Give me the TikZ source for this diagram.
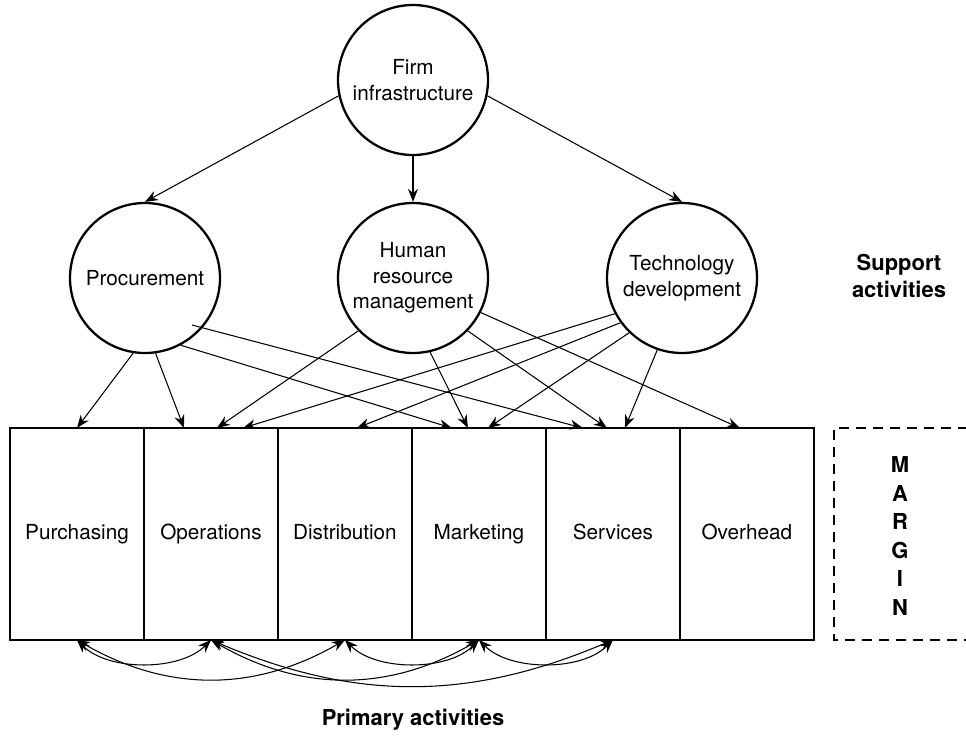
\documentclass[tikz,border=0pt]{standalone}
\usepackage{fontspec}
\setmainfont{TeX Gyre Heros}
\usetikzlibrary{arrows.meta,positioning,calc}

\begin{document}
\begin{tikzpicture}[x=0.02cm, y=-0.02cm, >={Stealth[length=2.6mm, width=2mm]},
    every node/.style={font=\fontsize{11.8}{14.5}\selectfont},
    activity/.style={draw, circle, line width=1.3pt, minimum size=3cm, inner sep=0pt, align=center},
    primary/.style={draw, line width=1.3pt, minimum width=2.68cm, minimum height=4.24cm, inner sep=0pt, outer sep=0pt,
        text height=1.6ex, text depth=0.5ex},
    link/.style={->, line width=0.6pt},
    flow/.style={<->, line width=0.6pt},
    heading/.style={font=\fontsize{12.5}{15.5}\selectfont\bfseries, align=center},
    marginline/.style={line width=1.1pt, dash pattern=on 0.2cm off 0.14cm}]

    \useasboundingbox (0,0) rectangle (966,737);

    % Support activities
    \node [activity] (firm) at (413,80) {Firm\\infrastructure};
    \node [activity] (proc) at (145,278) {Procurement};
    \node [activity] (hrm) at (413,278) {Human\\resource\\management};
    \node [activity] (tech) at (682,278) {Technology\\development};

    % Primary activities
    \node [primary, anchor=north west] (purch) at (10,428) {Purchasing};
    \node [primary, right=0pt of purch] (oper) {Operations};
    \node [primary, right=0pt of oper] (dist) {Distribution};
    \node [primary, right=0pt of dist] (mark) {Marketing};
    \node [primary, right=0pt of mark] (serv) {Services};
    \node [primary, right=0pt of serv] (over) {Overhead};

    % Margin
    \draw [marginline] (968,428) -| (834,640) -- (968,640);
    \node [heading, font=\fontsize{12.5}{16.2}\selectfont\bfseries] (margin) at (900,536) {M\\A\\R\\G\\I\\N};

    % Labels
    \node [heading] (support) at (899,276) {Support\\activities};
    \node [heading] (primaryact) at (413,720) {Primary activities};

    % Firm infrastructure feeds the other support activities
    \draw [link] (firm.192) -- (proc.north);
    \draw [link] (firm.south) -- (hrm.north);
    \draw [link] (firm.348) -- (tech.north);

    % Support to primary
    \coordinate (procin) at (192,325);
    \draw [link] (proc.261) -- (purch.north);
    \draw [link] (proc.278) -- ($(oper.north west)+(40,0)$);
    \draw [link] (proc.298) -- ($(mark.north west)+(40,0)$);
    \draw [link] (procin) -- ($(serv.north west)+(37,0)$);

    \draw [link] (hrm.224) -- ($(oper.north west)+(73,0)$);
    \draw [link] (hrm.283) -- ($(mark.north west)+(56,0)$);
    \draw [link] (hrm.316) -- ($(serv.north west)+(61,0)$);
    \draw [link] (hrm.333) -- ($(over.north west)+(60,0)$);

    \draw [link] (tech.208) -- ($(oper.north west)+(99,0)$);
    \draw [link] (tech.216) -- ($(dist.north west)+(79,0)$);
    \draw [link] (tech.226) -- ($(mark.north west)+(76,0)$);
    \draw [link] (tech.251) -- ($(serv.north west)+(79,0)$);

    % Links between primary activities
    \draw [flow] (purch.south) to [bend right=45, looseness=0.85] (oper.south);
    \draw [flow] (purch.south) to [bend right=30] (dist.south);
    \draw [flow] (oper.south) to [bend right=30] (mark.south);
    \draw [flow] (oper.south) to [bend right=23] (serv.south);
    \draw [flow] (dist.south) to [bend right=45, looseness=0.85] (mark.south);
    \draw [flow] (mark.south) to [bend right=45, looseness=0.85] (serv.south);
\end{tikzpicture}
\end{document}
